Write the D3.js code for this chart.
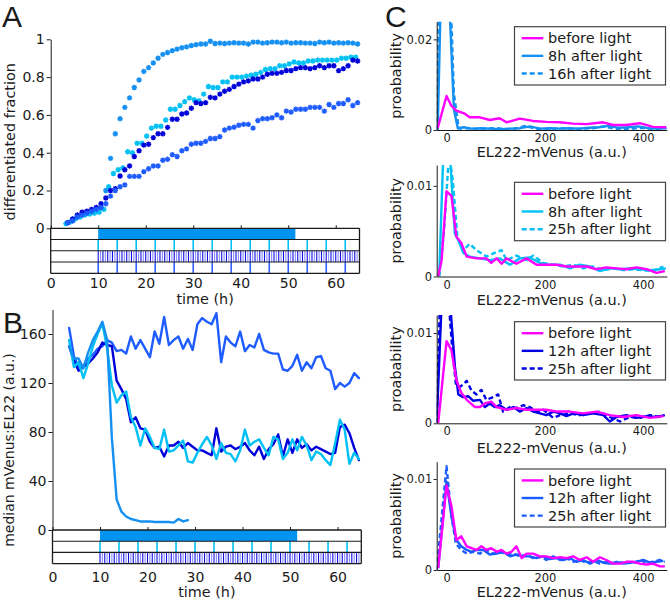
<!DOCTYPE html>
<html><head><meta charset="utf-8">
<script src="https://cdn.jsdelivr.net/npm/d3@7"></script>
<style>
body{margin:0;background:#fff}
svg{display:block}
text{font-family:"DejaVu Sans",sans-serif;fill:#1a1a1a}
</style>
</head><body>
<svg id="chart" width="670" height="601"></svg>
<script>
// ---------------- DATA ----------------
// Panel A: differentiated fraction (hourly samples)
const hoursA = d3.range(3.6, 65, 1);          // sampling grid (h)
const hoursACyan = d3.range(3.2, 65, 1);
const fracContinuous = [0.03,0.04,0.06,0.07,0.08,0.085,0.09,0.11,0.20,0.37,0.50,0.58,0.64,0.69,0.745,0.785,0.83,0.85,0.875,0.90,0.92,0.93,0.94,0.948,0.955,0.96,0.967,0.972,0.975,0.975,0.99,
 0.978,0.98,0.978,0.98,0.982,0.98,0.98,0.975,0.985,0.985,0.98,0.982,0.985,0.985,0.982,0.985,0.98,0.982,0.982,0.98,0.98,0.978,0.985,0.982,0.985,0.98,0.982,0.98,0.982,0.98,0.975];
const fracPulse4h = [0.025,0.035,0.05,0.06,0.07,0.075,0.08,0.085,0.10,0.22,0.29,0.31,0.32,0.405,0.40,0.45,0.45,0.488,0.53,0.54,0.54,0.573,0.63,0.63,0.65,0.67,0.69,0.68,0.675,0.71,0.75,0.745,0.745,0.775,0.775,0.80,0.80,0.80,0.805,0.81,0.815,0.825,0.84,0.845,0.845,0.86,0.86,0.87,0.88,0.875,0.875,0.885,0.885,0.89,0.89,0.89,0.89,0.89,0.9,0.9,0.905,0.905];
const fracPulse30m = [0.03,0.05,0.07,0.085,0.09,0.10,0.11,0.13,0.16,0.20,0.21,0.277,0.31,0.33,0.38,0.41,0.44,0.445,0.48,0.50,0.50,0.534,0.577,0.577,0.605,0.61,0.635,0.665,0.66,0.665,0.693,0.69,0.71,0.725,0.735,0.75,0.763,0.775,0.78,0.79,0.79,0.80,0.815,0.82,0.82,0.825,0.835,0.835,0.845,0.85,0.85,0.845,0.85,0.86,0.85,0.86,0.86,0.834,0.845,0.86,0.89,0.885];
const fracPulse4hB = [0.03,0.04,0.06,0.07,0.08,0.09,0.10,0.11,0.13,0.17,0.20,0.22,0.23,0.275,0.275,0.275,0.30,0.315,0.33,0.33,0.36,0.365,0.39,0.38,0.41,0.42,0.445,0.45,0.45,0.46,0.475,0.475,0.485,0.52,0.53,0.535,0.545,0.55,0.55,0.53,0.57,0.58,0.58,0.585,0.60,0.585,0.62,0.615,0.63,0.63,0.63,0.64,0.64,0.64,0.62,0.655,0.64,0.66,0.66,0.68,0.65,0.665];

// Panel B: median mVenus:EL222 (a.u.)
const hoursB = d3.range(3.5, 65, 1);
const medContinuous = [150,140,140,132,145,155,162,170,155,75,25,15,11,9,8,7,7,7,6.5,6.5,6.5,6.5,6,9,7,8];
const medPulse4h = [155,133,137,124,136,150,160,169,148,118,104,110,113,92,84,69,83,76,67,66,82,64,65,69,73,56,55,63,70,76,69,58,71,63,62,56,65,82,69,72,74,67,61,76,74,58,63,74,65,76,69,57,64,62,57,53,71,90,82,54,63,58];
const medPulse30m = [150,138,130,133,136,140,145,153,151,150,122,115,107,88,92,83,82,72,67,68,60,69,69,72,67,71,68,65,65,63,61,83,64,68,69,66,68,71,65,61,68,58,66,70,78,60,74,63,74,67,70,65,68,66,64,62,63,84,86,79,67,57];
const medDark = [165,142,133,134,140,143,148,150,155,153,146,147,144,158,148,155,148,141,162,152,174,151,155,158,148,156,147,168,173,170,168,177,137,158,153,150,162,146,151,149,160,147,145,144,144,131,130,134,143,130,137,132,141,142,132,130,115,120,117,120,128,124];

// Light schedules (h)
const lightContinuous = [10, 51.5];
const pulses4h = [10,14,18,22,26,30,34,38,42,46,50,54,58,62];
const pulsesHourly = [10,11,12,13,14,15,16,17,18,19,20,21,22,23,24,25,26,27,28,29,30,31,32,33,34,35,36,37,38,39,40,41,42,43,44,45,46,47,48,49,50,51,52,53,54,55,56,57,58,59,60,61,62,63,64];
const pulsesHalf = [10.5,11.5,12.5,13.5,14.5,15.5,16.5,17.5,18.5,19.5,20.5,21.5,22.5,23.5,24.5,25.5,26.5,27.5,28.5,29.5,30.5,31.5,32.5,33.5,34.5,35.5,36.5,37.5,38.5,39.5,40.5,41.5,42.5,43.5,44.5,45.5,46.5,47.5,48.5,49.5,50.5,51.5,52.5,53.5,54.5,55.5,56.5,57.5,58.5,59.5,60.5,61.5,62.5,63.5,64.5];

// Panel C: histograms (EL222-mVenus a.u. vs probability)
const c1BeforeX = [-18,0,10,20,37,47,68,88,108,122,149,176,203,230,257,285,318,339,366,393,420,447];
const c1BeforeY = [0.0004,0.0075,0.0053,0.0043,0.0036,0.0028,0.0028,0.0022,0.0026,0.0017,0.0025,0.0020,0.0018,0.0017,0.0014,0.0013,0.0017,0.0011,0.0011,0.0015,0.0007,0.0006];
const c1AX = [-18,-5,5,15,23,35,50,70,90,110,130,150,170,190,210,230,250,270,290,310,330,350,370,390,410,430,448];
const c1AY = [0,0.06,0.03,0.0045,0.0004,0.0006,0.0003,0.0004,0.0003,0.0002,0.0003,0.0004,0.0008,0.0003,0.0004,0.0003,0.0004,0.0003,0.0005,0.0006,0.0009,0.0005,0.0006,0.0008,0.0004,0.0003,0.0004];
const c1BX = [-20,-8,5,15,25,40,60,80,100,120,140,160,180,200,220,240,260,280,300,320,340,360,380,400,420,440];
const c1BY = [0,0.07,0.04,0.008,0.0003,0.0004,0.0002,0.0003,0.0004,0.0002,0.0003,0.0009,0.0003,0.0002,0.0003,0.0004,0.0002,0.0003,0.0004,0.0008,0.0003,0.0002,0.0003,0.0005,0.0002,0.0001];

const c2BeforeX = [-17,-10,0,10,20,30,41,61,81,91,102,112,122,142,163,183,203,224,244,264,285,305,325,346,366,386,407,427,444];
const c2BeforeY = [0,0.0018,0.0094,0.0089,0.0044,0.0037,0.0022,0.0020,0.0020,0.0015,0.0020,0.0014,0.0020,0.0014,0.0020,0.0013,0.0013,0.0013,0.0011,0.0011,0.0011,0.0008,0.0010,0.0009,0.0008,0.0010,0.0008,0.0004,0.0006];
const c2AX = [-15,-5,5,17,24,34,47,68,88,108,129,149,169,190,210,231,251,271,292,312,332,353,373,393,414,434,446];
const c2AY = [0,0.016,0.015,0.0047,0.0040,0.0026,0.0022,0.0020,0.0018,0.0020,0.0013,0.0020,0.0021,0.0015,0.0013,0.0013,0.0009,0.0013,0.0011,0.0006,0.0009,0.0008,0.0009,0.0008,0.0007,0.0008,0.0009];
const c2BX = [-15,-5,5,13,22,34,47,61,81,102,112,122,142,163,176,197,217,237,258,278,298,319,339,359,380,400,420,441];
const c2BY = [0,0.005,0.0135,0.0105,0.0044,0.0029,0.0036,0.0029,0.0022,0.0027,0.0029,0.0018,0.0023,0.0018,0.0023,0.0015,0.0013,0.0011,0.0013,0.0009,0.0011,0.0007,0.0009,0.0007,0.0008,0.0007,0.0006,0.0011];

const c3BeforeX = [-17,0,10,20,30,41,58,68,78,91,102,122,142,163,183,203,224,251,278,305,332,359,386,414,441];
const c3BeforeY = [0,0.0091,0.0081,0.0048,0.0034,0.0026,0.0018,0.0018,0.0022,0.0024,0.0018,0.0015,0.0017,0.0015,0.0015,0.0015,0.0013,0.0013,0.0011,0.0013,0.0009,0.0007,0.0009,0.0006,0.0008];
const c3AX = [-20,-5,5,17,24,34,44,54,68,78,88,98,108,122,136,149,163,176,190,203,217,231,244,258,278,298,319,332,346,366,386,407,427,444];
const c3AY = [0,0.02,0.015,0.0063,0.0032,0.0029,0.003,0.0025,0.0026,0.0018,0.0022,0.0018,0.002,0.0015,0.0018,0.0013,0.0017,0.0013,0.0011,0.0009,0.0013,0.0011,0.0008,0.0011,0.0009,0.0011,0.0009,0.0002,0.0007,0.0009,0.0006,0.0008,0.0007,0.0009];
const c3BX = [-20,-8,5,12,19,27,41,51,61,71,81,95,105,115,129,142,156,169,183,197,217,231,251,271,292,312,332,353,373,393,414,434];
const c3BY = [0,0.025,0.013,0.008,0.0044,0.0040,0.0047,0.0036,0.0032,0.0037,0.0026,0.0029,0.0032,0.0013,0.0018,0.0017,0.002,0.0018,0.0013,0.0015,0.0006,0.0009,0.0011,0.0009,0.0011,0.0013,0.0007,0.0002,0.0007,0.0006,0.0009,0.0007];

const c4BeforeX = [-17,0,10,20,30,41,51,61,71,81,91,102,112,122,132,142,153,163,176,190,203,217,231,244,258,271,285,298,312,325,339,353,366,380,393,407,420,434,444];
const c4BeforeY = [0.0002,0.0093,0.0070,0.0033,0.0037,0.0026,0.0024,0.0022,0.0026,0.0022,0.0024,0.0020,0.0022,0.0018,0.0020,0.0026,0.0013,0.0018,0.0018,0.0015,0.0015,0.0013,0.0014,0.0013,0.0015,0.0011,0.0014,0.0009,0.0014,0.0011,0.0007,0.0007,0.0009,0.0009,0.0007,0.0006,0.0007,0.0004,0.0004];
const c4AX = [-17,0,10,20,30,41,51,61,75,88,102,115,129,142,156,169,183,197,210,224,237,251,264,278,292,305,319,332,346,359,373,386,400,414,427,441];
const c4AY = [0.0002,0.0097,0.0059,0.0033,0.0026,0.0022,0.0020,0.0022,0.0022,0.0017,0.0018,0.0020,0.0015,0.0017,0.0015,0.0015,0.0013,0.0015,0.0012,0.0013,0.0011,0.0013,0.0009,0.0011,0.0007,0.0011,0.0008,0.0007,0.0009,0.0007,0.0008,0.0009,0.0011,0.0008,0.0009,0.0010];
const c4BX = [-20,0,10,19,30,41,54,68,81,95,108,122,136,149,163,176,190,203,217,231,244,258,271,285,298,312,325,339,353,366,380,393,407,420,434,444];
const c4BY = [0,0.0114,0.0059,0.0029,0.0022,0.0018,0.0020,0.0018,0.0022,0.0018,0.0020,0.0017,0.0018,0.0015,0.0017,0.0013,0.0015,0.0011,0.0015,0.0011,0.0013,0.0009,0.0011,0.0008,0.0010,0.0007,0.0009,0.0007,0.0008,0.0009,0.0007,0.0011,0.0008,0.0009,0.0011,0.0009];

const legendC = [
  ["before light","8h after light","16h after light"],
  ["before light","8h after light","25h after light"],
  ["before light","12h after light","25h after light"],
  ["before light","12h after light","25h after light"]
];

// colours
const COL = {cont:"#1490f2", p4:"#00c0f4", p30:"#0000d8", dark:"#1f5cff", mag:"#ff00ff", row4:"#3060ff", half:"#8a8aff"};
const INK = "#1a1a1a";

// ---------------- DRAW ----------------
const svg = d3.select("#chart");

function styleAxis(g, fs){
  g.selectAll("path.domain").attr("stroke", INK).attr("stroke-width", 1);
  g.selectAll(".tick line").attr("stroke", INK).attr("stroke-width", 1);
  g.selectAll(".tick text").attr("fill", INK).style("font-size", fs + "px").style("font-family", "DejaVu Sans");
}
function starPath(r){
  const a = r * 0.72;
  return `M${-r},0L${r},0M0,${-r}L0,${r}M${-a},${-a}L${a},${a}M${-a},${a}L${a},${-a}`;
}
function letter(txt, x, y){
  svg.append("text").attr("x", x).attr("y", y).text(txt)
    .style("font-family", "Liberation Sans, Arial, sans-serif").style("font-size", "30px").attr("fill", "#000");
}

// light rows drawer
function lightRows(x, top, rowH, rows){
  const g = svg.append("g");
  const x0 = x.range()[0], x1 = x.range()[1];
  rows.forEach((r, i) => {
    const y0 = top + i * rowH, y1 = y0 + rowH;
    if (r.type === "bar") {
      g.append("rect").attr("x", x(r.span[0])).attr("y", y0).attr("width", x(r.span[1]) - x(r.span[0])).attr("height", rowH).attr("fill", r.color);
    } else {
      r.sets.forEach(s => {
        g.selectAll(null).data(s.times).enter().append("line")
          .attr("x1", d => x(d)).attr("x2", d => x(d)).attr("y1", y0).attr("y2", y1)
          .attr("stroke", s.color).attr("stroke-width", s.w);
      });
    }
  });
  for (let i = 0; i <= rows.length; i++) {
    g.append("line").attr("x1", x0).attr("x2", x1).attr("y1", top + i * rowH).attr("y2", top + i * rowH)
      .attr("stroke", INK).attr("stroke-width", i === 0 || i === rows.length ? 1.3 : 1.1);
  }
  g.append("line").attr("x1", x0).attr("x2", x0).attr("y1", top).attr("y2", top + rows.length * rowH).attr("stroke", INK).attr("stroke-width", 1.3);
  g.append("line").attr("x1", x1).attr("x2", x1).attr("y1", top).attr("y2", top + rows.length * rowH).attr("stroke", INK).attr("stroke-width", 1.3);
  // top ticks
  const ta = svg.append("g").attr("transform", `translate(0,${top})`)
    .call(d3.axisTop(x).tickValues([0,10,20,30,40,50,60]).tickSize(3).tickFormat(""));
  ta.select("path.domain").remove();
  ta.selectAll(".tick line").attr("stroke", INK);
  return top + rows.length * rowH;
}

// ===== Panel A =====
const xA = d3.scaleLinear().domain([0, 65]).range([50.7, 359.5]);
const yA = d3.scaleLinear().domain([0, 1]).range([228.3, 39.3]);
letter("A", 2, 27);
const gyA = svg.append("g").attr("transform", `translate(${xA(0)},0)`)
  .call(d3.axisLeft(yA).tickValues([0,0.2,0.4,0.6,0.8,1]).tickSize(4).tickPadding(2).tickSizeOuter(0)
    .tickFormat(d => d === 0 ? "0" : d === 1 ? "1" : d3.format(".1f")(d)));
styleAxis(gyA, 14);
svg.append("text").attr("transform", `translate(15,${(yA(0)+yA(1))/2+8}) rotate(-90)`).attr("text-anchor", "middle")
  .style("font-size", "14.4px").text("differentiated fraction");

const seriesA = [
  {t: hoursA, v: fracContinuous, c: COL.cont},
  {t: hoursACyan, v: fracPulse4h, c: COL.p4},
  {t: hoursA, v: fracPulse30m, c: COL.p30},
  {t: hoursA, v: fracPulse4hB, c: COL.dark}
];
seriesA.forEach(s => {
  svg.append("g").selectAll("path").data(s.v).enter().append("path")
    .attr("d", starPath(2.7))
    .attr("transform", (d, i) => `translate(${xA(s.t[i])},${yA(d)})`)
    .attr("stroke", s.c).attr("stroke-width", 1.4).attr("fill", "none");
});
const rowH = 11.25;
const botA = lightRows(xA, yA(0), rowH, [
  {type: "bar", span: lightContinuous, color: "#0093f0"},
  {type: "lines", sets: [{times: pulses4h, color: COL.p4, w: 1.6}]},
  {type: "lines", sets: [{times: pulsesHalf, color: COL.half, w: 1.1}, {times: pulsesHourly, color: "#1010e0", w: 1.1}]},
  {type: "lines", sets: [{times: pulses4h, color: COL.row4, w: 1.6}]}
]);
const gxA = svg.append("g").attr("transform", `translate(0,${botA})`)
  .call(d3.axisBottom(xA).tickValues([0,10,20,30,40,50,60]).tickSize(0).tickPadding(4.5));
gxA.select("path.domain").remove();
styleAxis(gxA, 14);
svg.append("text").attr("x", (xA(0)+xA(65))/2).attr("y", 303.5).attr("text-anchor", "middle").style("font-size", "14.4px").text("time (h)");

// ===== Panel B =====
const xB = d3.scaleLinear().domain([0, 65]).range([52.5, 361.3]);
const yB = d3.scaleLinear().domain([0, 180]).range([530, 309.5]);
letter("B", 3, 333);
const gyB = svg.append("g").attr("transform", `translate(${xB(0)},0)`)
  .call(d3.axisLeft(yB).tickValues([0,40,80,120,160]).tickSize(4).tickPadding(2).tickSizeOuter(0));
styleAxis(gyB, 14);
svg.append("text").attr("transform", `translate(14,450) rotate(-90)`).attr("text-anchor", "middle")
  .style("font-size", "14px").text("median mVenus:EL22 (a.u.)");
const lineB = d3.line().x((d, i) => xB(hoursB[i])).y(d => yB(d));
[[medDark, COL.dark], [medPulse30m, COL.p30], [medPulse4h, COL.p4], [medContinuous, COL.cont]].forEach(([v, c]) => {
  svg.append("path").datum(v).attr("d", lineB).attr("fill", "none").attr("stroke", c)
    .attr("stroke-width", 2.4).attr("stroke-linejoin", "round").attr("stroke-linecap", "round");
});
const botB = lightRows(xB, yB(0), 11.2, [
  {type: "bar", span: lightContinuous, color: "#0093f0"},
  {type: "lines", sets: [{times: pulses4h, color: COL.p4, w: 1.6}]},
  {type: "lines", sets: [{times: pulsesHalf, color: COL.half, w: 1.1}, {times: pulsesHourly, color: "#1010e0", w: 1.1}]}
]);
const gxB = svg.append("g").attr("transform", `translate(0,${botB})`)
  .call(d3.axisBottom(xB).tickValues([0,10,20,30,40,50,60]).tickSize(0).tickPadding(8));
gxB.select("path.domain").remove();
styleAxis(gxB, 14);
svg.append("text").attr("x", (xB(0)+xB(65))/2).attr("y", 596.5).attr("text-anchor", "middle").style("font-size", "14.4px").text("time (h)");

// ===== Panel C =====
letter("C", 385, 27);
const xC = d3.scaleLinear().domain([-20, 448]).range([436.7, 666.8]);
const subs = [
  {top: 21.7, bottom: 130, max: 0.0239, tick: 0.02, lab: "0.02", col: COL.cont, a: [c1AX, c1AY], b: [c1BX, c1BY], m: [c1BeforeX, c1BeforeY], xl: 152, leg: [26.7, 85]},
  {top: 165, bottom: 276.5, max: 0.0123, tick: 0.01, lab: "0.01", col: COL.p4, a: [c2AX, c2AY], b: [c2BX, c2BY], m: [c2BeforeX, c2BeforeY], xl: 300, leg: [182.3, 240.7]},
  {top: 315, bottom: 423.3, max: 0.012, tick: 0.01, lab: "0.01", col: "#0000e6", a: [c3AX, c3AY], b: [c3BX, c3BY], m: [c3BeforeX, c3BeforeY], xl: 448, leg: [321.7, 380]},
  {top: 461.7, bottom: 570, max: 0.0119, tick: 0.01, lab: "0.01", col: "#1a5cff", a: [c4AX, c4AY], b: [c4BX, c4BY], m: [c4BeforeX, c4BeforeY], xl: 592, leg: [469, 527]}
];
subs.forEach((s, k) => {
  const y = d3.scaleLinear().domain([0, s.max]).range([s.bottom, s.top]);
  const clipId = "clip" + k;
  svg.append("clipPath").attr("id", clipId).append("rect")
    .attr("x", xC.range()[0]).attr("y", s.top).attr("width", xC.range()[1] - xC.range()[0]).attr("height", s.bottom - s.top);
  const g = svg.append("g").attr("clip-path", `url(#${clipId})`);
  const mk = (xs) => d3.line().x((d, i) => xC(xs[i])).y(d => y(d));
  g.append("path").datum(s.a[1]).attr("d", mk(s.a[0])).attr("fill", "none").attr("stroke", s.col).attr("stroke-width", 2.4).attr("stroke-linejoin", "round");
  g.append("path").datum(s.b[1]).attr("d", mk(s.b[0])).attr("fill", "none").attr("stroke", s.col).attr("stroke-width", 2.4).attr("stroke-dasharray", "5,3").attr("stroke-linejoin", "round");
  g.append("path").datum(s.m[1]).attr("d", mk(s.m[0])).attr("fill", "none").attr("stroke", COL.mag).attr("stroke-width", 2.4).attr("stroke-linejoin", "round");

  const gy = svg.append("g").attr("transform", `translate(${xC.range()[0]},0)`)
    .call(d3.axisLeft(y).tickValues([0, s.tick]).tickSize(3).tickPadding(1.5).tickSizeOuter(0)
      .tickFormat(d => d === 0 ? "0" : s.lab));
  styleAxis(gy, 11.5);
  const gx = svg.append("g").attr("transform", `translate(0,${s.bottom})`)
    .call(d3.axisBottom(xC).tickValues([0, 200, 400]).tickSize(0).tickPadding(3.9).tickSizeOuter(0));
  styleAxis(gx, 11.5);
  svg.append("text").attr("x", (xC.range()[0] + xC.range()[1]) / 2).attr("y", s.xl + 5).attr("text-anchor", "middle")
    .style("font-size", "14.4px").text("EL222-mVenus (a.u.)");
  svg.append("text").attr("transform", `translate(401,${(s.top + s.bottom) / 2}) rotate(-90)`).attr("text-anchor", "middle")
    .style("font-size", "14.4px").text("proabability");

  // legend
  const lg = svg.append("g");
  lg.append("rect").attr("x", 514.5).attr("y", s.leg[0]).attr("width", 151).attr("height", s.leg[1] - s.leg[0])
    .attr("fill", "#fff").attr("stroke", "#444").attr("stroke-width", 1.2);
  const rowGap = (s.leg[1] - s.leg[0]) / 3.3;
  const styles = [{c: COL.mag, dash: null}, {c: s.col, dash: null}, {c: s.col, dash: "5,3"}];
  legendC[k].forEach((t, j) => {
    const yy = s.leg[0] + rowGap * 0.5 + 0.15 * rowGap + j * rowGap;
    lg.append("line").attr("x1", 521.7).attr("x2", 543.3).attr("y1", yy).attr("y2", yy)
      .attr("stroke", styles[j].c).attr("stroke-width", 2.4).attr("stroke-dasharray", styles[j].dash);
    lg.append("text").attr("x", 548).attr("y", yy).attr("dy", "0.36em").style("font-size", "14.5px").text(t);
  });
});
</script>
</body></html>
